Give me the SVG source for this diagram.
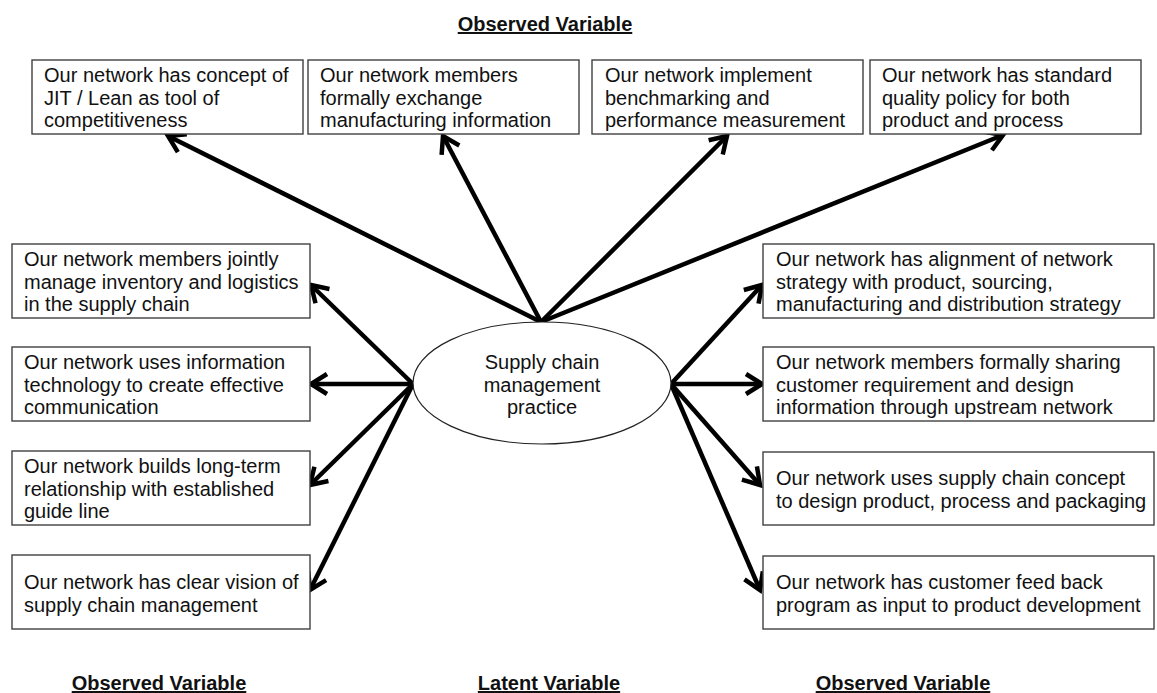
<svg xmlns="http://www.w3.org/2000/svg" width="1157" height="693" viewBox="0 0 1157 693">
  <style>
    .box { fill: #ffffff; stroke: #404040; stroke-width: 1.4; }
    .lbl { font-family: "Liberation Sans", Arial, sans-serif; font-size: 20px; fill: #111111; }
    .head { font-family: "Liberation Sans", Arial, sans-serif; font-size: 20px; font-weight: bold; fill: #111111; text-decoration: underline; }
    .edge { stroke: #000000; stroke-width: 4.5; fill: none; marker-end: url(#arrow); }
    .latent { fill: #ffffff; stroke: #222222; stroke-width: 1.2; }
  </style>
  <defs>
    <marker id="arrow" markerUnits="userSpaceOnUse" markerWidth="34" markerHeight="34" refX="0" refY="0" viewBox="-22 -17 34 34" orient="auto">
      <path d="M -16,-10 L 0,0 L -16,10" fill="none" stroke="#000000" stroke-width="4.5" stroke-linejoin="miter" stroke-linecap="butt"/>
    </marker>
  </defs>
  <rect width="1157" height="693" fill="#ffffff"/>

  <!-- section headings -->
  <g id="headings">
    <text class="head" x="545" y="31" text-anchor="middle">Observed Variable</text>
    <text class="head" x="159" y="690" text-anchor="middle">Observed Variable</text>
    <text class="head" x="549" y="690" text-anchor="middle">Latent Variable</text>
    <text class="head" x="903" y="690" text-anchor="middle">Observed Variable</text>
  </g>

  <!-- connectors -->
  <g id="connectors">
    <line class="edge" x1="541" y1="322" x2="168" y2="136"/>
    <line class="edge" x1="541" y1="322" x2="443" y2="136"/>
    <line class="edge" x1="541" y1="322" x2="727" y2="136"/>
    <line class="edge" x1="541" y1="322" x2="1003" y2="135"/>
    <line class="edge" x1="413" y1="384" x2="311" y2="285"/>
    <line class="edge" x1="413" y1="384" x2="311" y2="384"/>
    <line class="edge" x1="413" y1="384" x2="310" y2="485"/>
    <line class="edge" x1="413" y1="384" x2="310" y2="590"/>
    <line class="edge" x1="671" y1="384" x2="762" y2="285"/>
    <line class="edge" x1="671" y1="384" x2="762" y2="384"/>
    <line class="edge" x1="671" y1="384" x2="760" y2="485"/>
    <line class="edge" x1="671" y1="384" x2="760" y2="590"/>
  </g>

  <!-- latent variable -->
  <g id="scm-practice">
    <ellipse class="latent" cx="542" cy="383" rx="129" ry="61"/>
    <text class="lbl" x="542" y="369" text-anchor="middle">Supply chain</text>
    <text class="lbl" x="542" y="392" text-anchor="middle">management</text>
    <text class="lbl" x="542" y="414" text-anchor="middle">practice</text>
  </g>

  <!-- top indicators -->
  <g id="jit-lean">
    <rect class="box" x="32" y="60" width="271" height="74"/>
    <text class="lbl" x="44" y="82">Our network has concept of</text>
    <text class="lbl" x="44" y="105">JIT / Lean as tool of</text>
    <text class="lbl" x="44" y="127">competitiveness</text>
  </g>
  <g id="mfg-info">
    <rect class="box" x="308" y="60" width="271" height="74"/>
    <text class="lbl" x="320" y="82">Our network members</text>
    <text class="lbl" x="320" y="105">formally exchange</text>
    <text class="lbl" x="320" y="127">manufacturing information</text>
  </g>
  <g id="benchmarking">
    <rect class="box" x="592" y="60" width="271" height="74"/>
    <text class="lbl" x="605" y="82">Our network implement</text>
    <text class="lbl" x="605" y="105">benchmarking and</text>
    <text class="lbl" x="605" y="127">performance measurement</text>
  </g>
  <g id="quality-policy">
    <rect class="box" x="870" y="60" width="271" height="74"/>
    <text class="lbl" x="882" y="82">Our network has standard</text>
    <text class="lbl" x="882" y="105">quality policy for both</text>
    <text class="lbl" x="882" y="127">product and process</text>
  </g>

  <!-- left indicators -->
  <g id="inventory-logistics">
    <rect class="box" x="12" y="244" width="298" height="74"/>
    <text class="lbl" x="24" y="266">Our network members jointly</text>
    <text class="lbl" x="24" y="289">manage inventory and logistics</text>
    <text class="lbl" x="24" y="311">in the supply chain</text>
  </g>
  <g id="info-technology">
    <rect class="box" x="12" y="347" width="298" height="74"/>
    <text class="lbl" x="24" y="369">Our network uses information</text>
    <text class="lbl" x="24" y="392">technology to create effective</text>
    <text class="lbl" x="24" y="414">communication</text>
  </g>
  <g id="long-term">
    <rect class="box" x="12" y="451" width="298" height="74"/>
    <text class="lbl" x="24" y="473">Our network builds long-term</text>
    <text class="lbl" x="24" y="496">relationship with established</text>
    <text class="lbl" x="24" y="518">guide line</text>
  </g>
  <g id="clear-vision">
    <rect class="box" x="12" y="555" width="298" height="74"/>
    <text class="lbl" x="24" y="589">Our network has clear vision of</text>
    <text class="lbl" x="24" y="612">supply chain management</text>
  </g>

  <!-- right indicators -->
  <g id="strategy-alignment">
    <rect class="box" x="763" y="244" width="391" height="74"/>
    <text class="lbl" x="776" y="266">Our network has alignment of network</text>
    <text class="lbl" x="776" y="289">strategy with product, sourcing,</text>
    <text class="lbl" x="776" y="311">manufacturing and distribution strategy</text>
  </g>
  <g id="customer-requirement">
    <rect class="box" x="763" y="347" width="391" height="74"/>
    <text class="lbl" x="776" y="369">Our network members formally sharing</text>
    <text class="lbl" x="776" y="392">customer requirement and design</text>
    <text class="lbl" x="776" y="414">information through upstream network</text>
  </g>
  <g id="design-concept">
    <rect class="box" x="763" y="452" width="391" height="73"/>
    <text class="lbl" x="776" y="485">Our network uses supply chain concept</text>
    <text class="lbl" x="776" y="508">to design product, process and packaging</text>
  </g>
  <g id="customer-feedback">
    <rect class="box" x="763" y="556" width="391" height="73"/>
    <text class="lbl" x="776" y="589">Our network has customer feed back</text>
    <text class="lbl" x="776" y="612">program as input to product development</text>
  </g>
</svg>
